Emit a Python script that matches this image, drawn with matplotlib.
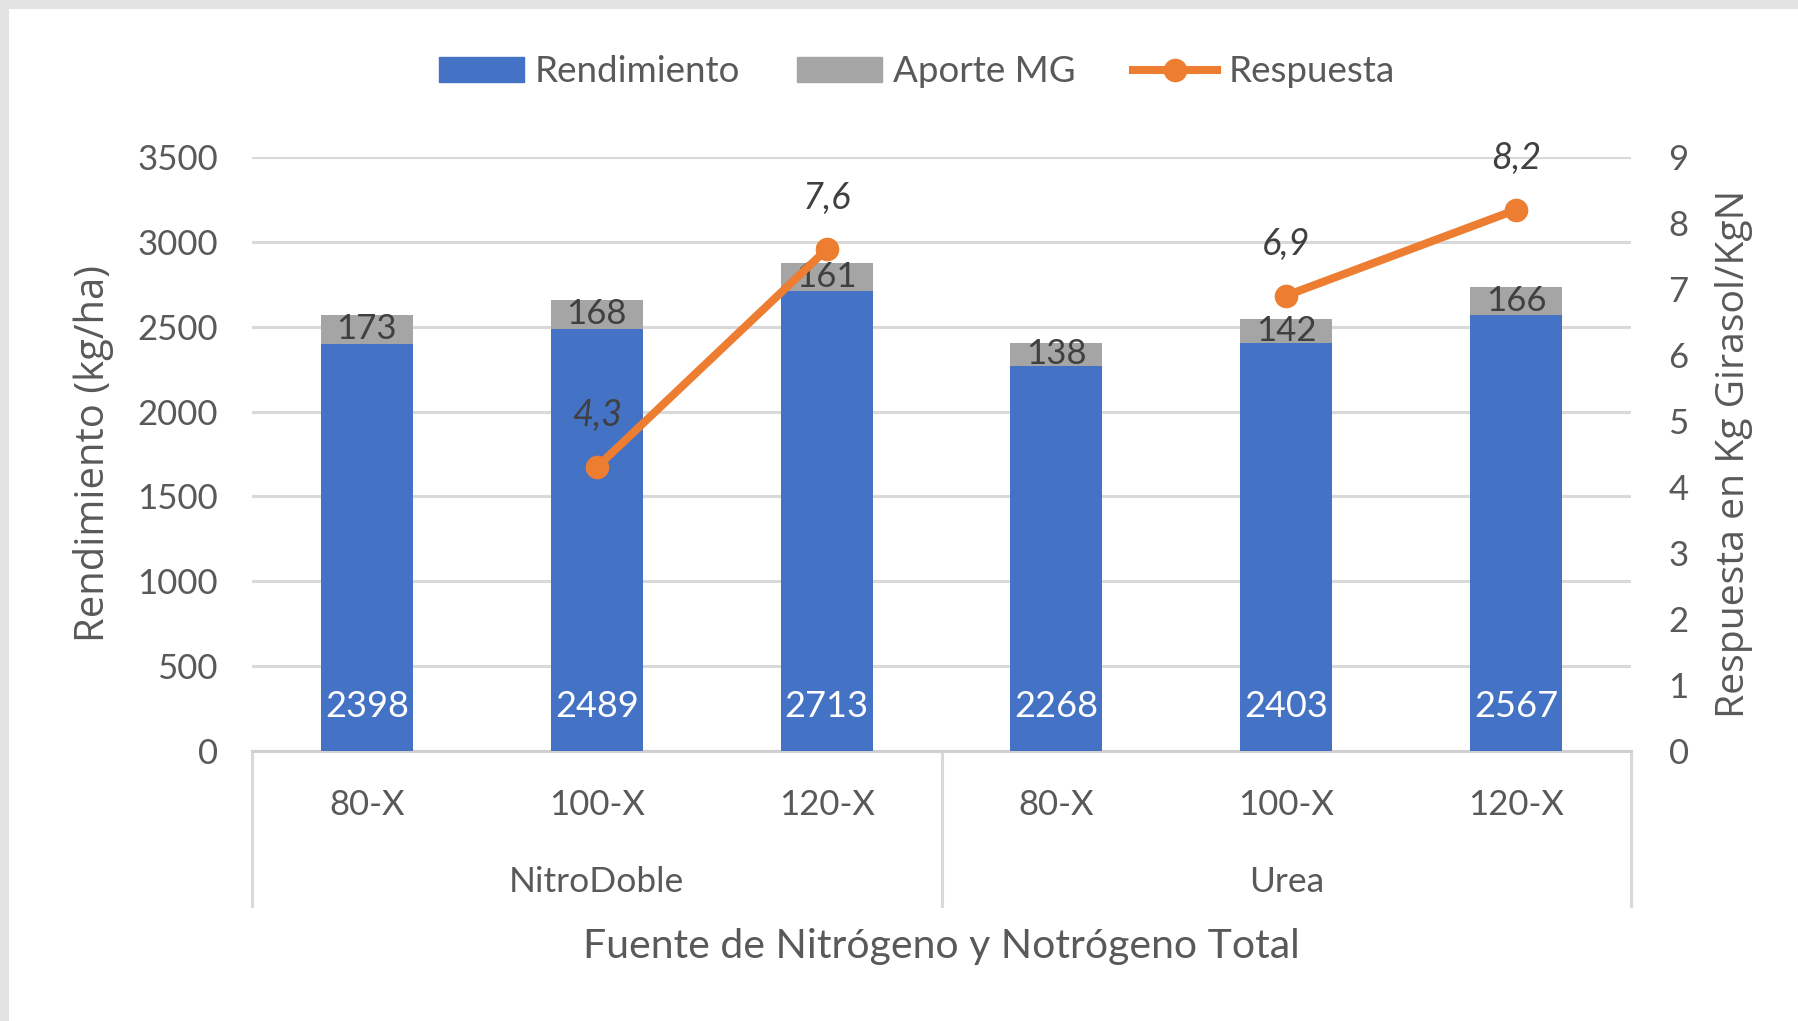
import numpy as np
import matplotlib
matplotlib.use("Agg")
import matplotlib.pyplot as plt
from matplotlib.lines import Line2D
from matplotlib.patches import Patch, Rectangle

# data
fuentes = ["NitroDoble", "Urea"]
dosis = ["80-X", "100-X", "120-X", "80-X", "100-X", "120-X"]
rendimiento = [2398, 2489, 2713, 2268, 2403, 2567]
aporte_mg = [173, 168, 161, 138, 142, 166]
respuesta = [np.nan, 4.3, 7.6, np.nan, 6.9, 8.2]

azul = "#4472C4"
gris = "#A5A5A5"
naranja = "#ED7D31"
texto = "#595959"
grid_c = "#D9D9D9"

plt.rcParams["font.family"] = ["Lato", "DejaVu Sans"]

W, H = 1798, 1021
fig = plt.figure(figsize=(W / 100, H / 100), dpi=100)
fig.patch.set_facecolor("#E3E3E3")
# white card inside the grey screenshot frame
fig.patches.append(Rectangle((9 / W, 0), 1, 1 - 9 / H, transform=fig.transFigure,
                             facecolor="white", edgecolor="none", zorder=-10))

#plot area in pixels
left, right, top, bottom = 252, 1631, 157, 751
ax = fig.add_axes([left / W, 1 - bottom / H, (right - left) / W, (bottom - top) / H])
ax2 = ax.twinx()

x = np.arange(len(dosis))
bw = 0.4

ax.bar(x, rendimiento, bw, color=azul, zorder=3)
ax.bar(x, aporte_mg, bw, bottom=rendimiento, color=gris, zorder=3)

ax.set_xlim(-0.5, len(dosis) - 0.5)
ax.set_ylim(0, 3500)
ax.set_yticks(np.arange(0, 3501, 500))
ax.yaxis.grid(True, color=grid_c, lw=2.2, zorder=0)
ax.set_axisbelow(True)
ax.set_xticks([])
for s in ["top", "left", "right"]:
    ax.spines[s].set_visible(False)
ax.spines["bottom"].set_color("#D0D0D0")
ax.spines["bottom"].set_linewidth(2.2)
ax.tick_params(axis="y", length=0, pad=24.5, labelsize=25, labelcolor=texto)

#value labels
for xi, r, a in zip(x, rendimiento, aporte_mg):
    ax.annotate(str(r), (xi, 0), xytext=(0, 32), textcoords="offset points",
                ha="center", va="center", color="white", fontsize=26, zorder=5)
    ax.text(xi, r + a / 2, str(a), ha="center", va="center", color="#404040",
            fontsize=25, zorder=5)

#respuesta line on right axis
ax2.plot(x, respuesta, color=naranja, lw=5.8, marker="o", markersize=16, zorder=6)
ax2.set_ylim(0, 9)
ax2.set_yticks(np.arange(0, 10, 1))
for s in ["top", "left", "right", "bottom"]:
    ax2.spines[s].set_visible(False)
ax2.tick_params(axis="y", length=0, pad=27, labelsize=25, labelcolor=texto)
for xi, v in zip(x, respuesta):
    if np.isnan(v):
        continue
    ax2.annotate(f"{v:.1f}".replace(".", ","), (xi, v), xytext=(0, 37),
                 textcoords="offset points", ha="center", va="center",
                 color="#404040", fontsize=26, style="italic")

#multi level category axis
tr = ax.get_xaxis_transform()
for xi, d in zip(x, dosis):
    ax.text(xi, -54 / 594, d, transform=tr, ha="center", va="center",
            fontsize=25, color=texto)
for i, f in enumerate(fuentes):
    ax.text(i * 3 + 1, -131 / 594, f, transform=tr, ha="center", va="center",
            fontsize=25.5, color=texto)
for xs in [-0.5, 2.5, 5.5]:
    ax.plot([xs, xs], [0, -155 / 594], transform=tr, color=grid_c, lw=2.2,
            clip_on=False)

fig.text((left + right) / 2 / W, 1 - 946 / H, "Fuente de Nitrógeno y Notrógeno Total",
         ha="center", va="center", fontsize=29.5, color=texto)
fig.text(94 / W, 1 - 454 / H, "Rendimiento (kg/ha)", rotation=90, ha="center",
         va="center", fontsize=28.8, color=texto, family=["Open Sans", "DejaVu Sans"])
fig.text(1734 / W, 1 - 454 / H, "Respuesta en Kg Girasol/KgN", rotation=90,
         ha="center", va="center", fontsize=28.2, color=texto,
         family=["Open Sans", "DejaVu Sans"])

handles = [Patch(color=azul, label="Rendimiento"),
           Patch(color=gris, label="Aporte MG"),
           Line2D([], [], color=naranja, lw=5.8, marker="o", markersize=16,
                  label="Respuesta")]
fig.legend(handles=handles, loc="center", bbox_to_anchor=(917 / W, 1 - 72 / H),
           ncol=3, frameon=False, fontsize=26.5, labelcolor=texto,
           handlelength=2.3, handletextpad=0.3, columnspacing=1.55)

fig.savefig("out.png", dpi=100, facecolor=fig.get_facecolor())
